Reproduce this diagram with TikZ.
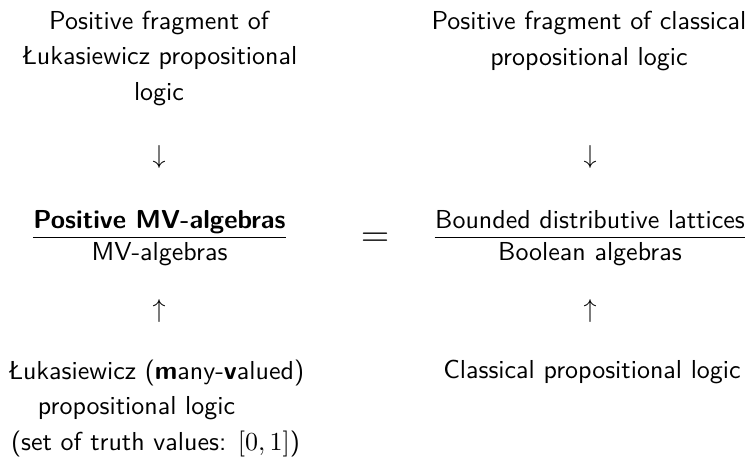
\documentclass[tikz,border=0pt]{standalone}
\usepackage{amsmath}
\usetikzlibrary{calc}
\begin{document}
\begin{tikzpicture}[x=0.385pt,y=-0.385pt,
  txt/.style={font=\sffamily\fontsize{10}{13.65}\selectfont, inner sep=0pt, align=center, anchor=base},
  sym/.style={inner sep=0pt, anchor=center},
  fracbar/.style={line width=0.45pt}]
\useasboundingbox (0,0) rectangle (753,457);
% top row (anchor base = baseline of last line)
\node[txt] (tl) at (159,100) {Positive fragment of\\Łukasiewicz propositional\\logic};
\node[txt] (tr) at (589,65) {Positive fragment of classical\\propositional logic};
% down arrows
\node[sym] (dl) at (159,156.5) {$\downarrow$};
\node[sym] (dr) at (590,156.5) {$\downarrow$};
% fractions
\node[txt] (lnum) at (159.5,228.5) {\bfseries Positive MV-algebras};
\node[txt] (lden) at (159.5,260) {MV-algebras};
\draw[fracbar] ($(lnum.base west)+(0,9)$) -- ($(lnum.base east)+(0,9)$);
\node[txt] (rnum) at (590,228.5) {Bounded distributive lattices};
\node[txt] (rden) at (590,260) {Boolean algebras};
\draw[fracbar] ($(rnum.base west)+(0,9)$) -- ($(rnum.base east)+(0,9)$);
\node[inner sep=0pt, anchor=base] (eq) at (375,246.9) {\Large$=$};
% up arrows
\node[sym] (ul) at (159,310.5) {$\uparrow$};
\node[sym] (ur) at (590,310.5) {$\uparrow$};
% bottom row
\node[txt] (bl) at (155.5,450) {Łukasiewicz (\textbf{m}any-\textbf{v}alued)\\\mbox{propositional logic\hspace{14.6pt}}\\(set of truth values: $[0,1]$)};
\node[txt] (br) at (592,378) {Classical propositional logic};
\end{tikzpicture}
\end{document}
